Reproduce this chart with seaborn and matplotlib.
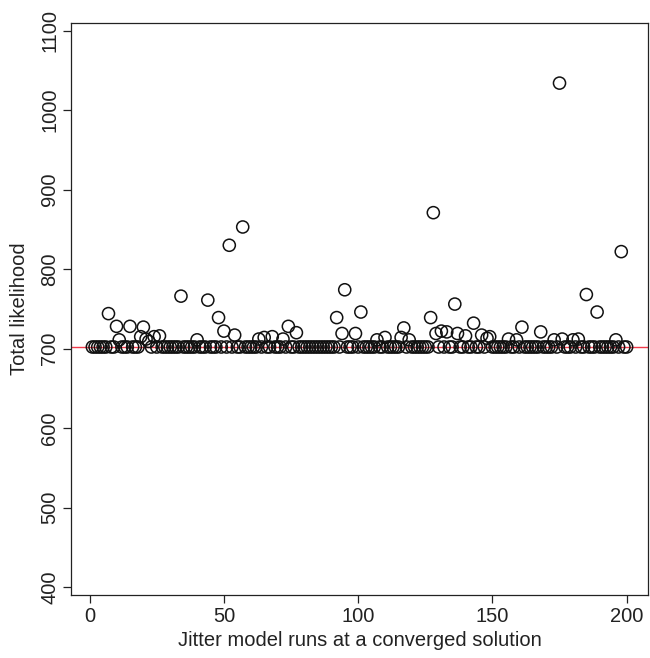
import matplotlib
matplotlib.use("Agg")
import matplotlib.pyplot as plt
import seaborn as sns
import numpy as np
import pandas as pd

run_index = list(range(1, 201))
total_likelihood = [
    702, 702, 702, 702, 702, 702, 744, 702, 702, 728,
    711, 702, 702, 702, 728, 702, 702, 702, 715, 727,
    712, 709, 702, 715, 702, 716, 702, 702, 702, 702,
    702, 702, 702, 766, 702, 702, 702, 702, 702, 711,
    702, 702, 702, 761, 702, 702, 702, 739, 702, 722,
    702, 830, 702, 717, 702, 702, 853, 702, 702, 702,
    702, 702, 712, 702, 714, 702, 702, 715, 702, 702,
    702, 712, 702, 728, 702, 702, 720, 702, 702, 702,
    702, 702, 702, 702, 702, 702, 702, 702, 702, 702,
    702, 739, 702, 719, 774, 702, 702, 702, 719, 702,
    746, 702, 702, 702, 702, 702, 711, 702, 702, 714,
    702, 702, 702, 702, 702, 714, 726, 702, 711, 702,
    702, 702, 702, 702, 702, 702, 739, 871, 719, 702,
    722, 702, 721, 702, 702, 756, 719, 702, 702, 716,
    702, 702, 732, 702, 702, 717, 702, 713, 715, 702,
    702, 702, 702, 702, 702, 712, 702, 702, 711, 702,
    727, 702, 702, 702, 702, 702, 702, 721, 702, 702,
    702, 702, 711, 702, 1034, 712, 702, 702, 702, 711,
    702, 712, 702, 702, 768, 702, 702, 702, 746, 702,
    702, 702, 702, 702, 702, 711, 702, 822, 702, 702,
]
converged_value = 702
x_ticks = [0, 50, 100, 150, 200]
y_ticks = [400, 500, 600, 700, 800, 900, 1000, 1100]
x_label = "Jitter model runs at a converged solution"
y_label = "Total likelihood"

df = pd.DataFrame({"run": run_index, "likelihood": total_likelihood})

sns.set_style("ticks")
plt.rcParams["font.family"] = ["Liberation Sans", "DejaVu Sans"]

fig = plt.figure(figsize=(6.5, 6.58), dpi=100)
top_px, bot_px = 22.7, 595.0
ax = fig.add_axes([71 / 650, 1 - bot_px / 658, (648 - 71) / 650, (bot_px - top_px) / 658])

sns.scatterplot(data=df, x="run", y="likelihood", ax=ax, marker="o", s=76,
                color="black", edgecolor="#111111", linewidth=1.1, legend=False, zorder=3)
ax.collections[0].set_facecolor("none")
ax.axhline(converged_value, color="#f03a4a", linewidth=1.0, zorder=2)

ax.set_xlim(-6.96, 207.96)
ax.set_ylim(390, 1110)
ax.set_xticks(x_ticks)
ax.set_yticks(y_ticks)
ax.set_yticklabels([str(v) for v in y_ticks], rotation=90, va="center")
ax.tick_params(axis="both", direction="out", length=5.5, width=0.9, colors="#222222",
               labelsize=14.5, pad=3)
for sp in ax.spines.values():
    sp.set_visible(True)
    sp.set_color("#222222")
    sp.set_linewidth(0.9)
ax.set_xlabel(x_label, fontsize=14.5, labelpad=4, color="#222222")
ax.set_ylabel(y_label, fontsize=14.5, labelpad=8, color="#222222")
ax.grid(False)

fig.savefig("out.png", dpi=100)
